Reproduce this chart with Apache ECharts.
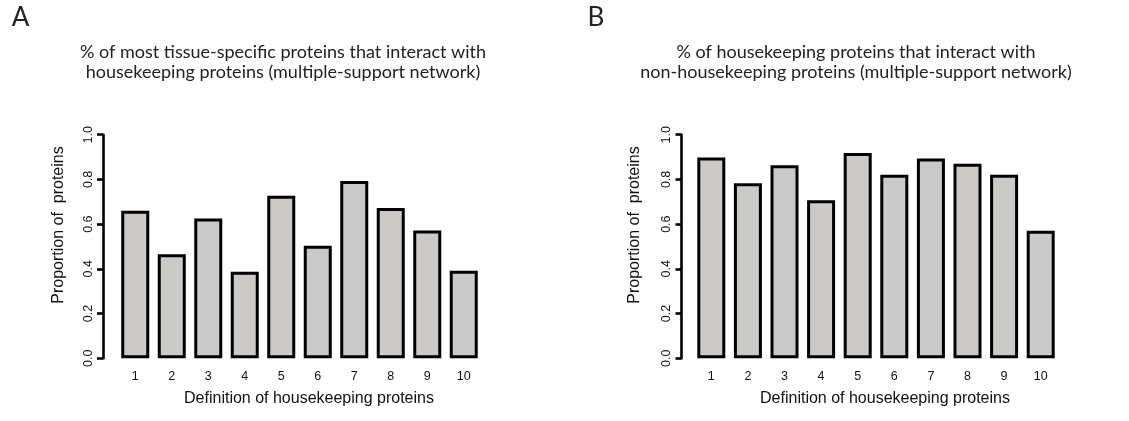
<!DOCTYPE html>
<html>
<head>
<meta charset="utf-8">
<script src="https://cdn.jsdelivr.net/npm/echarts@6/dist/echarts.min.js"></script>
<style>
  html, body { margin: 0; padding: 0; background: #ffffff; }
  #chart { width: 1129px; height: 421px; }
</style>
</head>
<body>
<div id="chart"></div>
<script>
// Definitions of housekeeping proteins (x categories)
const categories = ['1', '2', '3', '4', '5', '6', '7', '8', '9', '10'];

// Panel A: share of most tissue-specific proteins interacting with housekeeping proteins
const tissueSpecificShare = [0.660, 0.465, 0.625, 0.387, 0.727, 0.503, 0.793, 0.672, 0.572, 0.391];

// Panel B: share of housekeeping proteins interacting with non-housekeeping proteins
const housekeepingShare = [0.898, 0.783, 0.863, 0.707, 0.918, 0.821, 0.894, 0.870, 0.821, 0.570];

// Y axis ticks
const yTicks = { min: 0, max: 1, interval: 0.2 };

const panelTitles = [
  ['% of most tissue-specific proteins that interact with', 'housekeeping proteins (multiple-support network)'],
  ['% of housekeeping proteins that interact with', 'non-housekeeping proteins (multiple-support network)']
];
const panelLetters = ['A', 'B'];
const yName = 'Proportion of  proteins';
const xName = 'Definition of housekeeping proteins';

const TITLE_FONT = 'Lato, "Open Sans", sans-serif';
const AXIS_FONT = '"Liberation Sans", Arial, sans-serif';

const chart = echarts.init(document.getElementById('chart'), null, { renderer: 'canvas' });

const grids = [
  { left: 117, top: 134.7, width: 365, height: 223.6 },
  { left: 693, top: 134.7, width: 366, height: 223.6 }
];
const yOffsets = [14, 11.5];

function xAxisFor(i) {
  return {
    type: 'category', gridIndex: i, data: categories,
    axisLine: { show: false }, axisTick: { show: false },
    axisLabel: { color: '#111', fontFamily: AXIS_FONT, fontSize: 12.5, margin: 12 }
  };
}
function yAxisFor(i) {
  return {
    type: 'value', gridIndex: i, min: yTicks.min, max: yTicks.max, interval: yTicks.interval,
    offset: yOffsets[i],
    splitLine: { show: false },
    axisLine: { show: true, lineStyle: { color: '#000', width: 2.6 } },
    axisTick: { show: true, length: 6, lineStyle: { color: '#000', width: 2.6 } },
    axisLabel: {
      rotate: 90, color: '#111', fontFamily: AXIS_FONT, fontSize: 12.5, margin: 8,
      formatter: v => v.toFixed(1)
    }
  };
}
function barSeries(i, values) {
  return {
    type: 'bar', xAxisIndex: i, yAxisIndex: i, data: values,
    barWidth: 28,
    itemStyle: { color: '#cbcac8', borderColor: '#000', borderWidth: 3 },
    emphasis: { disabled: true }
  };
}

// Text furniture: panel letters, two-line titles, axis names
const graphics = [];
const panelCenters = [283, 856];
const letterX = [20.5, 596];
const yNameX = [58.3, 635];
const xNameX = [309, 885];
for (let i = 0; i < 2; i++) {
  graphics.push({
    type: 'text', x: letterX[i], y: 18,
    style: { text: panelLetters[i], font: '26px ' + TITLE_FONT, fill: '#222', align: 'center', verticalAlign: 'middle' }
  });
  panelTitles[i].forEach((line, k) => {
    graphics.push({
      type: 'text', x: panelCenters[i], y: 52 + k * 20,
      style: { text: line, font: '18px ' + TITLE_FONT, fill: '#222', align: 'center', verticalAlign: 'middle' }
    });
  });
  graphics.push({
    type: 'text', x: yNameX[i], y: 225, rotation: Math.PI / 2,
    style: { text: yName, font: '16px ' + AXIS_FONT, fill: '#111', align: 'center', verticalAlign: 'middle' }
  });
  graphics.push({
    type: 'text', x: xNameX[i], y: 399,
    style: { text: xName, font: '16px ' + AXIS_FONT, fill: '#111', align: 'center', verticalAlign: 'middle' }
  });
}

chart.setOption({
  animation: false,
  backgroundColor: '#ffffff',
  grid: grids,
  xAxis: [xAxisFor(0), xAxisFor(1)],
  yAxis: [yAxisFor(0), yAxisFor(1)],
  series: [barSeries(0, tissueSpecificShare), barSeries(1, housekeepingShare)],
  graphic: graphics
});
</script>
</body>
</html>
